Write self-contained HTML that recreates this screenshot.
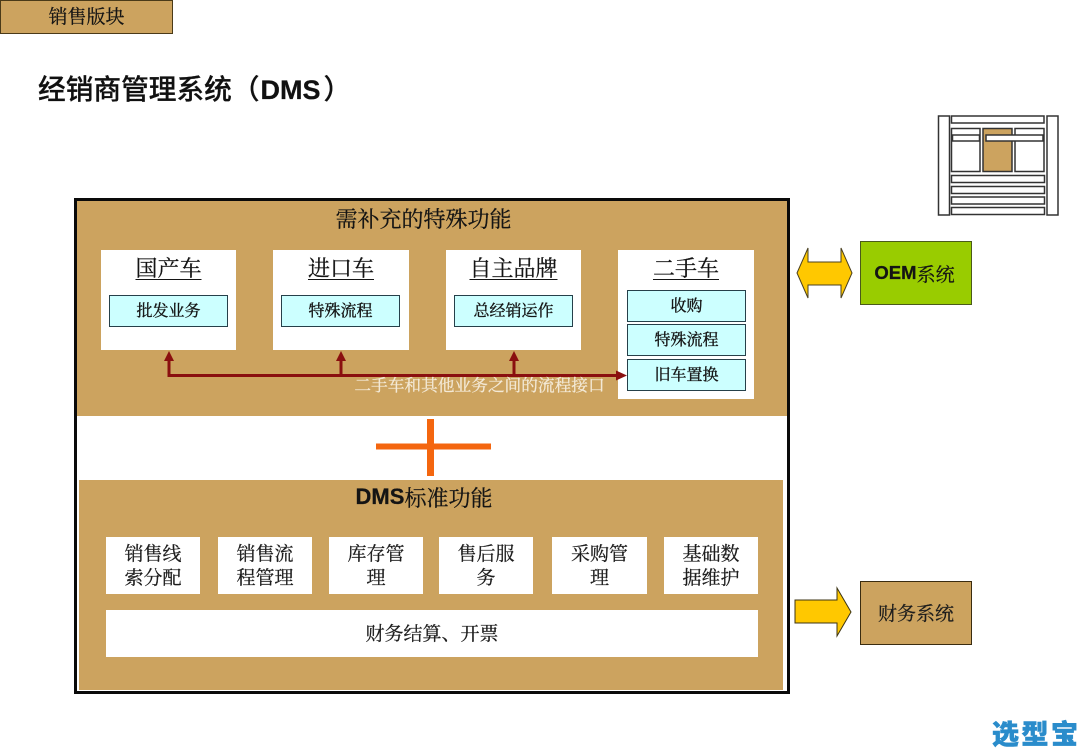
<!DOCTYPE html>
<html lang="zh">
<head>
<meta charset="utf-8">
<title>经销商管理系统（DMS）</title>
<style>
html,body{margin:0;padding:0;background:#fff}
body{width:1080px;height:748px;position:relative;overflow:hidden;font-family:"Liberation Serif","Noto Serif CJK SC",serif;color:#141414;-webkit-text-stroke:.25px currentColor;filter:blur(.35px)}
.b{position:absolute;box-sizing:border-box;display:flex;align-items:center;justify-content:center;text-align:center;white-space:nowrap}
.tan{background:#cca35f}
.w{background:#fff}
.c{background:#ccffff;border:1px solid #26404a;font-size:16px;padding-bottom:3px;-webkit-text-stroke:.35px currentColor}
.h{font-size:22px;text-decoration:underline;text-underline-offset:3px;text-decoration-thickness:1px;height:30px;line-height:30px}
.s{font-size:19px;line-height:24px;white-space:normal;color:#1c1c1c}
b{font-family:"Liberation Sans",sans-serif;font-weight:700}
svg{position:absolute;left:0;top:0}
</style>
</head>
<body>
<div class="b tan" style="left:0;top:0;width:173px;height:34px;border:1px solid #4a3a18;font-size:19px;padding-bottom:3px">销售版块</div>
<div class="b" style="left:38px;top:70px;height:40px;font:500 27.700px/40px 'Liberation Sans','Noto Sans CJK SC',sans-serif;color:#111;justify-content:flex-start">经销商管理系统（<b style="font-size:27px;margin-left:1px">DMS</b><span style="margin-left:3px">）</span></div>

<div class="b" style="left:74px;top:198px;width:716px;height:496px;border:3px solid #0a0a0a"></div>
<div class="b tan" style="left:77px;top:201px;width:710px;height:215px"></div>
<div class="b tan" style="left:79px;top:480px;width:704px;height:210px"></div>

<div class="b" style="left:335px;top:203px;width:177px;height:30px;font-size:22px">需补充的特殊功能</div>

<div class="b w" style="left:101px;top:250px;width:135px;height:100px"></div>
<div class="b w" style="left:273px;top:250px;width:136px;height:100px"></div>
<div class="b w" style="left:446px;top:250px;width:135px;height:100px"></div>
<div class="b w" style="left:618px;top:250px;width:136px;height:149px"></div>

<div class="b h" style="left:101px;top:254px;width:135px"><span>国产车</span></div>
<div class="b h" style="left:273px;top:254px;width:136px"><span>进口车</span></div>
<div class="b h" style="left:446px;top:254px;width:135px"><span>自主品牌</span></div>
<div class="b h" style="left:618px;top:254px;width:136px"><span>二手车</span></div>

<div class="b c" style="left:109px;top:295px;width:119px;height:32px">批发业务</div>
<div class="b c" style="left:281px;top:295px;width:119px;height:32px">特殊流程</div>
<div class="b c" style="left:454px;top:295px;width:119px;height:32px">总经销运作</div>
<div class="b c" style="left:627px;top:290px;width:119px;height:32px">收购</div>
<div class="b c" style="left:627px;top:324px;width:119px;height:32px">特殊流程</div>
<div class="b c" style="left:627px;top:359px;width:119px;height:32px">旧车置换</div>

<svg width="1080" height="748" viewBox="0 0 1080 748">
  <g fill="none" stroke="#8a0f0f" stroke-width="3">
    <path d="M169 360V375.500H618"/>
    <path d="M341 360V375"/>
    <path d="M514 360V375"/>
  </g>
  <g fill="#8a0f0f">
    <path d="M169 351l-5 10h10z"/>
    <path d="M341 351l-5 10h10z"/>
    <path d="M514 351l-5 10h10z"/>
    <path d="M627 375.500l-11-5v10z"/>
  </g>
  <rect x="376" y="443.500" width="115" height="6" fill="#f4660f"/>
  <rect x="427" y="419" width="7" height="57" fill="#f4660f"/>
  <path d="M797 273L808 248V262H841V248L852 273L841 298V285H808V298Z" fill="#ffc800" stroke="#4a4020" stroke-width="1"/>
  <path d="M795 600H837V588L851 612L837 636V623H795Z" fill="#ffc800" stroke="#3c3414" stroke-width="1"/>
  <g stroke="#333" stroke-width="1.500" fill="#fff">
    <rect x="938.500" y="116" width="11" height="99"/>
    <rect x="1047" y="116" width="11" height="99"/>
    <rect x="951.500" y="116" width="92.500" height="7"/>
    <rect x="951.500" y="128.500" width="28.500" height="43"/>
    <rect x="983" y="128.500" width="29" height="43" fill="#cca35f"/>
    <rect x="1015" y="128.500" width="29" height="43"/>
    <rect x="952.500" y="135" width="27" height="6"/>
    <rect x="986" y="135" width="57" height="6"/>
    <rect x="951.500" y="175.500" width="93" height="7"/>
    <rect x="951.500" y="186.500" width="93" height="7"/>
    <rect x="951.500" y="197" width="93" height="7"/>
    <rect x="951.500" y="207.500" width="93" height="7"/>
  </g>
</svg>

<div class="b" style="left:354px;top:372px;width:251px;height:24px;font-size:16.700px;color:#f3e9d6">二手车和其他业务之间的流程接口</div>

<div class="b" style="left:355px;top:482px;width:138px;height:30px;font-size:22px"><b>DMS</b>标准功能</div>

<div class="b w s" style="left:106px;top:537px;width:94px;height:57px;padding-top:2px">销售线<br>索分配</div>
<div class="b w s" style="left:218px;top:537px;width:94px;height:57px;padding-top:2px">销售流<br>程管理</div>
<div class="b w s" style="left:329px;top:537px;width:94px;height:57px;padding-top:2px">库存管<br>理</div>
<div class="b w s" style="left:439px;top:537px;width:94px;height:57px;padding-top:2px">售后服<br>务</div>
<div class="b w s" style="left:552px;top:537px;width:95px;height:57px;padding-top:2px">采购管<br>理</div>
<div class="b w s" style="left:664px;top:537px;width:94px;height:57px;padding-top:2px">基础数<br>据维护</div>
<div class="b w s" style="left:106px;top:610px;width:652px;height:47px;padding-top:2px">财务结算、开票</div>

<div class="b" style="left:860px;top:241px;width:112px;height:64px;background:#99cc00;border:1px solid #4a5a1a;font-size:19px;padding-right:3px"><b style="font-size:18.500px">OEM</b>系统</div>
<div class="b tan s" style="left:860px;top:581px;width:112px;height:64px;border:1px solid #3a2c10;padding-top:3px">财务系统</div>

<div class="b" style="left:990px;top:719px;width:90px;height:28px;font:900 27px/28px 'Noto Sans CJK SC','Liberation Sans',sans-serif;color:#2a8ccb;letter-spacing:2.500px;justify-content:flex-start;padding-left:2px;-webkit-text-stroke:.5px #2a8ccb">选型宝</div>
</body>
</html>
